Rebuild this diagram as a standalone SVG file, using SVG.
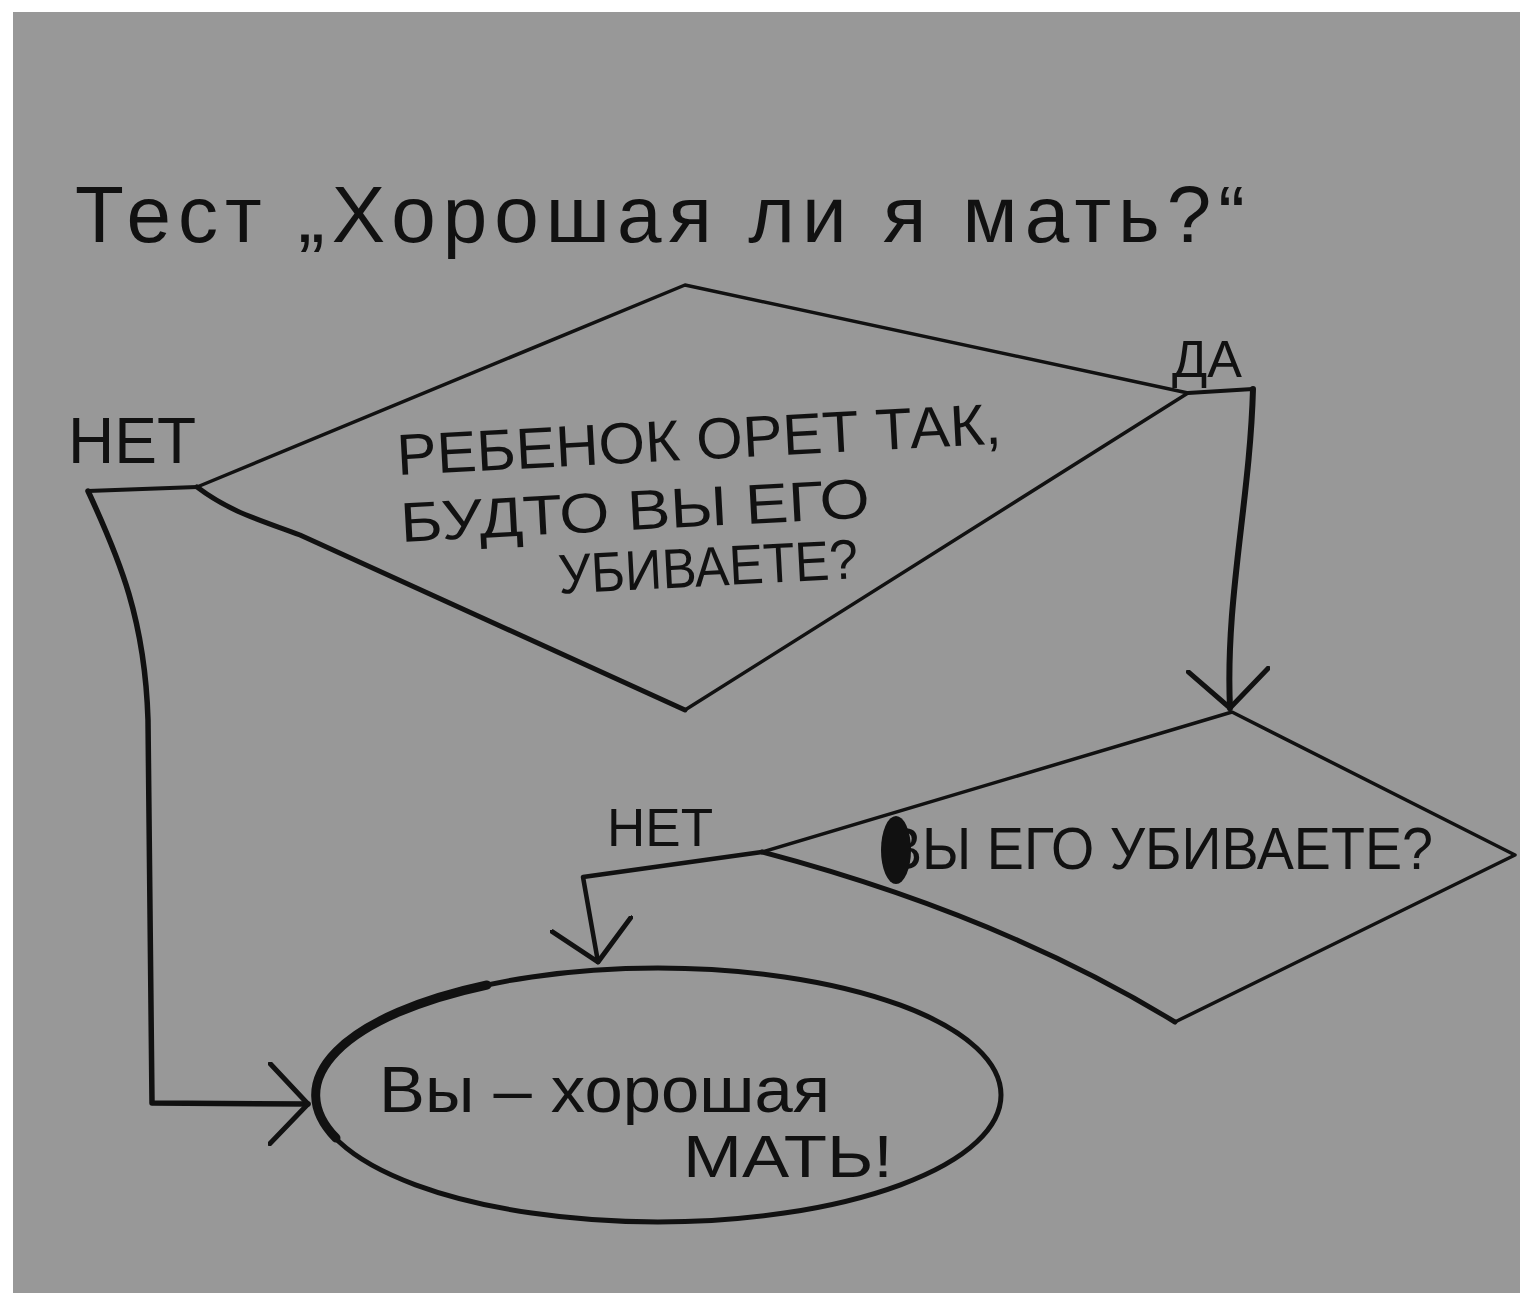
<svg xmlns="http://www.w3.org/2000/svg" width="1520" height="1293" viewBox="0 0 1520 1293">
<style>
.edge{fill:none;stroke:#111;stroke-linecap:round;stroke-linejoin:round}
.t{font-family:"Liberation Sans","Noto Sans",sans-serif;fill:#111}
</style>
<defs>
<marker id="v" viewBox="0 0 44 84" refX="40" refY="42" markerWidth="44" markerHeight="84" markerUnits="userSpaceOnUse" orient="auto">
<path d="M2,2 L40,42 L2,82" fill="none" stroke="#111" stroke-width="5" stroke-linecap="round" stroke-linejoin="round"/>
</marker>
</defs>
<rect x="0" y="0" width="1520" height="1293" fill="#ffffff"/>
<rect x="13" y="12" width="1507" height="1281" fill="#989898"/>

<g id="title">
<text class="t" x="75" y="242" font-size="80" textLength="1170" lengthAdjust="spacing">Тест „Хорошая ли я мать?“</text>
</g>

<g id="decision1">
<path class="edge" stroke-width="3.5" d="M197,487 L685,285 L1188,393 L685,710"/>
<path class="edge" stroke-width="5" d="M685,710 L300,535 C260,520 230,512 197,487"/>
<g transform="rotate(-3 630 510)">
<text class="t" x="400" y="463" font-size="58" textLength="605" lengthAdjust="spacingAndGlyphs">РЕБЕНОК ОРЕТ ТАК,</text>
<text class="t" x="400" y="530" font-size="56" textLength="470" lengthAdjust="spacingAndGlyphs">БУДТО ВЫ ЕГО</text>
<text class="t" x="555" y="590" font-size="56" textLength="300" lengthAdjust="spacingAndGlyphs">УБИВАЕТЕ?</text>
</g>
</g>

<g id="decision2">
<path class="edge" stroke-width="3.5" d="M762,852 L1232,712 L1515,855 L1175,1022"/>
<path class="edge" stroke-width="5" d="M762,852 Q1000,915 1175,1022"/>
<text class="t" x="885" y="869" font-size="60" textLength="548" lengthAdjust="spacingAndGlyphs">ВЫ ЕГО УБИВАЕТЕ?</text>
<ellipse cx="896" cy="850" rx="15" ry="34" fill="#111"/>
</g>

<g id="result">
<ellipse class="edge" stroke-width="5" cx="658" cy="1095" rx="343" ry="127"/>
<path class="edge" stroke-width="9" d="M487,985 A343,127 0 0,0 336,1138"/>
<text class="t" x="379" y="1112" font-size="64" textLength="451" lengthAdjust="spacingAndGlyphs">Вы – хорошая</text>
<text class="t" x="683" y="1177" font-size="60" textLength="210" lengthAdjust="spacingAndGlyphs">МАТЬ!</text>
</g>

<g id="connectors">
<path class="edge" stroke-width="4" d="M197,487 L88,491"/>
<path class="edge" stroke-width="5.5" d="M88,491 C120,560 145,620 148,720 L152,1103 L308,1104" marker-end="url(#v)"/>
<text class="t" x="68" y="463" font-size="64">НЕТ</text>

<path class="edge" stroke-width="4" d="M1188,393 L1253,389"/>
<path class="edge" stroke-width="6" d="M1253,389 C1250,500 1225,600 1230,708" marker-end="url(#v)"/>
<text class="t" x="1172" y="377" font-size="52">ДА</text>

<path class="edge" stroke-width="4.5" d="M762,852 L583,877 L598,962" marker-end="url(#v)"/>
<text class="t" x="607" y="846" font-size="54" textLength="106" lengthAdjust="spacingAndGlyphs">НЕТ</text>
</g>
</svg>
